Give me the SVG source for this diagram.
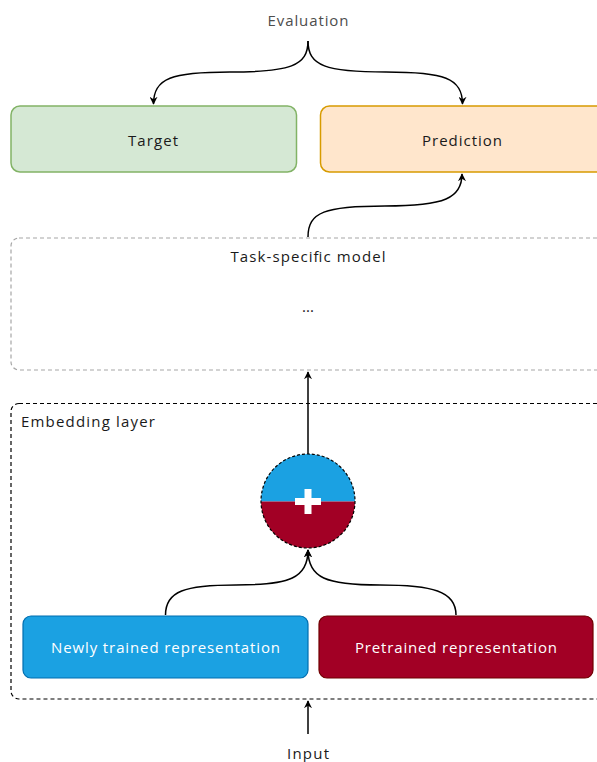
<svg xmlns="http://www.w3.org/2000/svg" width="597" height="762" viewBox="0 0 597 762">
<defs>
<style>
.t{font-family:"Open Sans","Liberation Sans",sans-serif;font-size:15px;text-anchor:middle;dominant-baseline:central;fill:#1a1a1a}
.lbl{fill:#4d4d4d}
.w{fill:#ffffff;font-weight:500}
.edge{fill:none;stroke:#000;stroke-width:1.5}
</style>
<marker id="ah" viewBox="0 0 10 10" refX="9" refY="5" markerWidth="8" markerHeight="8" markerUnits="userSpaceOnUse" orient="auto">
<path d="M0,0 L10,5 L0,10 L3,5 Z" fill="#000"/>
</marker>
<clipPath id="topHalf"><rect x="250" y="440" width="120" height="61.5"/></clipPath>
<clipPath id="botHalf"><rect x="250" y="501.5" width="120" height="60"/></clipPath>
</defs>
<rect width="597" height="762" fill="#ffffff"/>

<g id="task-model">
<rect x="11" y="238" width="620" height="132" rx="8" fill="none" stroke="#a6a6a6" stroke-width="1.2" stroke-dasharray="4 3"/>
<text class="t" x="308" y="256" textLength="155">Task-specific model</text>
<text class="t" x="308" y="306">...</text>
</g>

<g id="embedding-layer">
<rect x="11" y="403.5" width="620" height="295.5" rx="8" fill="none" stroke="#000" stroke-width="1.2" stroke-dasharray="4 3"/>
<text class="t" x="21" y="421" style="text-anchor:start" textLength="134">Embedding layer</text>
</g>

<g id="evaluation">
<text class="t lbl" x="308" y="20" textLength="81">Evaluation</text>
</g>

<g id="target">
<rect x="11" y="106" width="285.5" height="66" rx="9" fill="#d5e8d4" stroke="#82b366" stroke-width="1.5"/>
<text class="t" x="153" y="140" textLength="50">Target</text>
</g>

<g id="prediction">
<rect x="320.5" y="106" width="300" height="66" rx="9" fill="#ffe6cc" stroke="#d79b00" stroke-width="1.5"/>
<text class="t" x="462" y="140" textLength="80">Prediction</text>
</g>

<g id="sum">
<circle cx="308" cy="501" r="47" fill="#1ba1e2" clip-path="url(#topHalf)"/>
<circle cx="308" cy="501" r="47" fill="#a20025" clip-path="url(#botHalf)"/>
<circle cx="308" cy="501" r="47" fill="none" stroke="#000" stroke-width="1.2" stroke-dasharray="3 2"/>
<rect x="295" y="498" width="26" height="7" fill="#ffffff"/>
<rect x="304.5" y="489" width="7" height="25" fill="#ffffff"/>
</g>

<g id="newly-trained">
<rect x="23" y="616" width="285" height="62" rx="8" fill="#1ba1e2" stroke="#006eaf" stroke-width="1.2"/>
<text class="t w" x="165.5" y="647" textLength="229">Newly trained representation</text>
</g>

<g id="pretrained">
<rect x="319" y="616" width="274" height="62" rx="8" fill="#a20025" stroke="#6f0000" stroke-width="1.2"/>
<text class="t w" x="456" y="647" textLength="202">Pretrained representation</text>
</g>

<g id="input">
<text class="t" x="308" y="753" textLength="42">Input</text>
</g>

<g id="connectors">
<path class="edge" d="M308,41 C308,66 290,72 230,72 C172,72 153.5,78 153.5,104" marker-end="url(#ah)"/>
<path class="edge" d="M308,41 C308,66 326,72 386,72 C444,72 462.5,78 462.5,104" marker-end="url(#ah)"/>
<path class="edge" d="M308,237 C308,212 325,206 385,206 C445,206 462,198 462,174" marker-end="url(#ah)"/>
<path class="edge" d="M308,454 L308,372" marker-end="url(#ah)"/>
<path class="edge" d="M165.5,615 C165.5,591 185,585 236,585 C290,585 308,578 308,550" marker-end="url(#ah)"/>
<path class="edge" d="M456,615 C456,591 432,585 380,585 C326,585 308,578 308,550" marker-end="url(#ah)"/>
<path class="edge" d="M308,734 L308,701" marker-end="url(#ah)"/>
</g>
</svg>
